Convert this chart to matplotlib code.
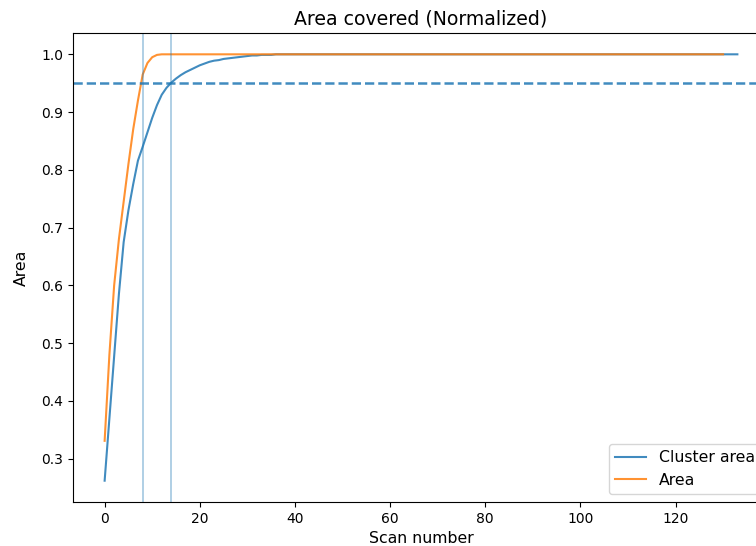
import numpy as np
import matplotlib
matplotlib.use("Agg")
import matplotlib.pyplot as plt

# values, one per scan
cluster_area_head = [0.262, 0.37, 0.478, 0.585, 0.675, 0.73, 0.775, 0.816, 0.84, 0.865,
                     0.89, 0.912, 0.93, 0.942, 0.951, 0.958, 0.964, 0.969, 0.973, 0.977,
                     0.981, 0.984, 0.987, 0.989, 0.990, 0.992, 0.993, 0.994, 0.995, 0.996,
                     0.997, 0.998, 0.998, 0.999, 0.999, 0.999, 1.0, 1.0, 1.0, 1.0]
cluster_area = np.array(cluster_area_head + [1.0] * (134 - len(cluster_area_head)))

area_head = [0.331, 0.48, 0.60, 0.68, 0.745, 0.81, 0.87, 0.92, 0.965, 0.985,
             0.995, 0.999, 1.0]
area = np.array(area_head + [1.0] * (131 - len(area_head)))

threshold = 0.95
cross_area = 8
cross_cluster = 14

fig = plt.figure(figsize=(7.56, 5.46), dpi=100)
ax = fig.add_axes([73 / 756, 44 / 546, 696 / 756, 469 / 546])

ax.plot(np.arange(len(cluster_area)), cluster_area, alpha=0.85, label="Cluster area")
ax.plot(np.arange(len(area)), area, alpha=0.85, label="Area")
ax.axhline(threshold, color="C0", ls="--", lw=1.8, alpha=0.85)
ax.axvline(cross_area, color="C0", lw=1.1, alpha=0.45)
ax.axvline(cross_cluster, color="C0", lw=1.1, alpha=0.45)

ax.set_title("Area covered (Normalized)", fontsize=13.6)
ax.set_xlabel("Scan number", fontsize=11.3)
ax.set_ylabel("Area", fontsize=11.3, labelpad=9)
ax.legend(loc="lower right", fontsize=11.3)

fig.savefig("out.png", dpi=100)
